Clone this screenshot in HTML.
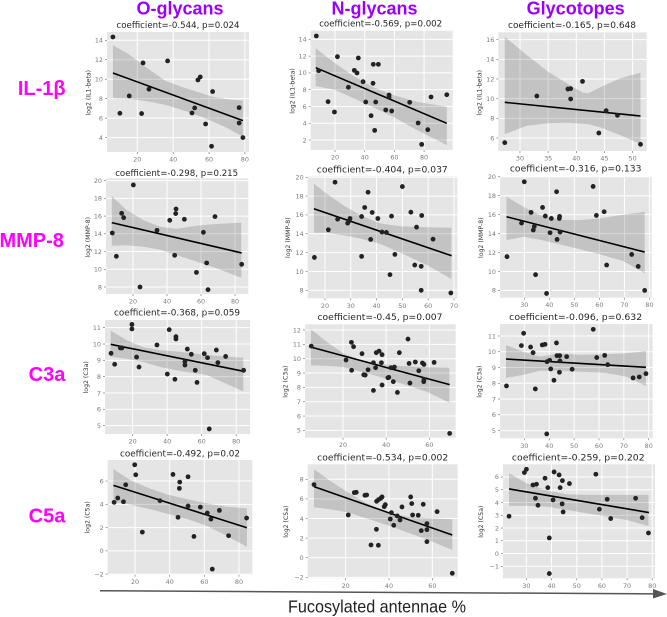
<!DOCTYPE html>
<html>
<head>
<meta charset="utf-8">
<title>Fucosylated antennae correlations</title>
<style>
html,body{margin:0;padding:0;background:#fff;}
#chart{display:block;position:absolute;left:0;top:0;width:667px;height:617px;filter:blur(0.35px);}
.head{font-family:"Liberation Sans",sans-serif;font-weight:bold;font-size:18px;fill:#9900ff;text-anchor:middle;}
.row{font-family:"Liberation Sans","DejaVu Sans",sans-serif;font-weight:bold;font-size:20px;fill:#ff00ff;text-anchor:middle;}
.ttl{font-family:"DejaVu Sans",sans-serif;font-size:8.8px;fill:#262626;text-anchor:middle;}
.tick{font-family:"DejaVu Sans",sans-serif;font-size:6.4px;fill:#7a7a7a;}
.ylab{font-family:"DejaVu Sans",sans-serif;font-size:6.2px;fill:#333;text-anchor:middle;}
.xlab{font-family:"Liberation Sans",sans-serif;font-size:17.5px;fill:#222;}
</style>
</head>
<body>
<svg id="chart" xmlns="http://www.w3.org/2000/svg" width="667" height="617" viewBox="0 0 667 617">
  <rect x="0" y="0" width="667" height="617" fill="#fff"/>
  <text class="head" x="180" y="14.5">O-glycans</text>
  <text class="head" x="374.5" y="14.5">N-glycans</text>
  <text class="head" x="575.7" y="14.5">Glycotopes</text>
  <text class="row" x="41.7" y="95">IL-1β</text>
  <text class="row" x="31.7" y="247">MMP-8</text>
  <text class="row" x="47" y="381">C3a</text>
  <text class="row" x="47" y="522.3">C5a</text>
  <g id="panels"></g>
  <line x1="100" y1="590.7" x2="654" y2="593.9" stroke="#555" stroke-width="1.5"/>
  <polygon points="653,589 667,594 653,598.5" fill="#555"/>
  <text class="xlab" x="288" y="612.3" textLength="178" lengthAdjust="spacingAndGlyphs">Fucosylated antennae %</text>
</svg>
<script>
// ---- O-glycans / IL-1beta
const oIl1X = [6.4,10.3,15.5,22.4,23.2,26.5,36.9,50.5,52,53.8,55.1,58.1,62,61.4,76.8,76.8,78.9];
const oIl1Y = [14.34,6.5,8.28,6.47,11.67,8.97,11.88,6.53,7.05,9.92,10.23,5.4,8.73,3.11,7.08,5.5,4.0];
const oIl1LineX = [6.4,78.9];
const oIl1LineY = [10.64,5.75];
const oIl1BandX = [6.4,15,25,36,45,55,62,70,78.9];
const oIl1Upper = [13.5,12.6,11.2,9.8,9.2,8.6,8.2,7.95,7.8];
const oIl1Lower = [8.05,8.0,7.75,7.35,6.85,6.2,5.65,5.0,4.1];
// ---- N-glycans / IL-1beta
const nIl1X = [7.4,9.0,15.3,19.6,21.6,29.0,33.0,34.8,35.7,38.9,40.7,44.3,45.6,45.8,46.7,47.4,49.2,54.2,56.4,56.4,58.2,70.3,76,82.5,78.4,84.7,95.3];
const nIl1Y = [14.4,10.27,6.57,5.34,11.93,8.28,10.3,9.99,11.78,8.95,6.53,4.9,8.76,11.02,3.15,6.53,11.02,5.58,7.09,7.37,5.46,6.49,4.03,3.23,1.48,7.13,7.4];
const nIl1LineX = [7,95.3];
const nIl1LineY = [10.62,3.99];
const nIl1BandX = [7,20,32.4,45.8,59.3,75,95.3];
const nIl1Upper = [12.93,11.14,9.63,8.28,7.37,6.57,5.97];
const nIl1Lower = [8.44,7.96,7.0,5.9,4.75,3.2,1.4];
// ---- Glycotopes / IL-1beta
const gIl1X = [27.3,33,38.5,39,39,41.1,44,45.3,47.3,51.4];
const gIl1Y = [5.53,10.27,10.98,11.02,9.97,11.76,6.51,8.78,8.31,5.36];
const gIl1LineX = [27.3,51.4];
const gIl1LineY = [9.63,8.24];
const gIl1BandX = [27.3,31.2,35,38.3,41.2,42.1,44.2,47.8,51.4];
const gIl1Upper = [16.3,14.44,12.75,11.56,10.6,10.54,11.15,12.07,12.64];
const gIl1Lower = [6.4,7.25,7.5,7.56,7.45,7.4,7.1,6.3,5.4];
// ---- O-glycans / MMP-8
const oMmpX = [7.8,10.2,13.3,14.5,20.2,24.1,34.1,41.6,44.5,45.1,45.3,50.2,57.3,61.4,63.3,64.1,68.2,83.9];
const oMmpY = [14.09,11.46,16.31,15.82,19.51,8,14.39,15.52,11.57,16.28,16.8,15.64,9.65,14.17,10.71,7.7,15.94,10.56];
const oMmpLineX = [7.5,83.9];
const oMmpLineY = [15.26,11.84];
const oMmpBandX = [7.5,16.3,26,35.9,45.7,57.5,69.2,83.7];
const oMmpUpper = [18.23,16.69,15.56,14.8,14.55,14.92,15.1,15.26];
const oMmpLower = [12.66,12.7,12.55,12.2,11.6,10.86,10.1,9.05];
// ---- N-glycans / MMP-8
const nMmpX = [15.9,21.3,23.9,24.9,28.8,29.4,29.7,34.2,34.2,35.4,36.7,37.7,38.3,40.5,42.1,43.8,45.2,45.8,47.1,50,53.3,54.8,55.5,57.3,57.5,57.3,61.9,68.8];
const nMmpY = [11.49,14.42,19.47,15.55,15.13,15.38,15.62,11.6,15.83,16.79,18.41,13.4,16.26,15.62,14.18,14.14,9.66,15.87,11.81,19.01,16.29,10.68,14.7,10.54,15.94,8,13.43,7.72];
const nMmpLineX = [15.7,69.1];
const nMmpLineY = [16.65,11.67];
const nMmpBandX = [15.7,20.6,27.1,33.6,41.3,49.1,59.4,69];
const nMmpUpper = [19.33,18.27,17.03,15.98,15.1,14.8,14.7,14.63];
const nMmpLower = [14.1,14.1,13.85,13.5,12.95,12.0,10.7,9.2];
// ---- Glycotopes / MMP-8
const gMmpX = [23.1,28.9,30,32.7,33.6,34,34.5,37.3,38.4,38.9,40.3,40.8,42.9,43.1,44,44.1,44.3,57.5,58.8,61.9,62.9,72.9,75.5,78.1];
const gMmpY = [11.56,15.11,19.47,16.24,14.37,14.76,9.66,16.76,15.85,7.68,14.09,15.6,18.42,13.38,15.6,15.81,14.16,18.98,15.92,16.31,10.68,11.8,10.53,8];
const gMmpLineX = [22.9,78.1];
const gMmpLineY = [15.78,12.05];
const gMmpBandX = [22.9,29.6,36.3,44.3,52.3,60.3,69.6,78.1];
const gMmpUpper = [17.89,16.83,15.95,15.43,15.43,15.6,16,16.3];
const gMmpLower = [13.3,13.67,13.35,12.85,12.35,11.8,11.1,9.8];
// ---- O-glycans / C3a
const oC3X = [7.5,9.6,12.9,13.8,19.6,19.6,22.3,23.7,34.1,40.1,41.2,44.5,45.1,45.1,50.3,50.3,51.7,54,56.3,57.3,61.5,63.4,64.4,68.5,69.4,73.9,84.3];
const oC3Y = [9.43,8.76,9.76,9.76,11.2,10.92,9.2,8.59,9.94,8.16,10.88,7.84,10.45,10.31,8.92,8.71,9.69,9.37,8.39,7.65,9.41,9.16,4.8,9.63,8.86,9.24,8.39];
const oC3LineX = [7.3,84.3];
const oC3LineY = [9.98,8.33];
const oC3BandX = [7.3,16.5,26.2,35.8,47.4,62.9,84.1];
const oC3Upper = [10.82,10.24,9.8,9.63,9.53,9.33,9.16];
const oC3Lower = [9.22,9.1,8.9,8.6,8.35,8.1,7.1];
// ---- N-glycans / C3a
const nC3X = [5.3,21.4,23.9,24,24.9,28.8,29.6,30.3,31.6,34.1,34.1,35.1,35.4,36.7,37.8,38.1,38.1,40.8,41.2,42.2,43.3,43.8,45.2,46.1,50.1,50.6,51,53.5,55.1,56.8,57.4,57.5,57.5,62.2,69.4];
const nC3Y = [10.88,9.91,11.14,9.19,10.84,10.35,8.88,8.86,9.23,9.72,7.79,9.37,10.42,10.53,9.72,10.28,8.16,8.67,8.7,9.37,8.4,9.42,7.65,10.42,11.37,9.67,8.3,9.77,9.16,9.7,8.4,9.6,8.56,9.74,4.79];
const nC3LineX = [5.2,69.4];
const nC3LineY = [10.81,8.19];
const nC3BandX = [5.2,12.4,20.2,27.9,35.6,46.4,58.8,69.3];
const nC3Upper = [12.05,11.19,10.37,9.9,9.67,9.49,9.4,9.37];
const nC3Lower = [9.53,9.5,9.42,9.1,8.8,8.3,7.7,6.93];
// ---- Glycotopes / C3a
const gC3X = [22.8,28.8,29.7,32.5,33.5,34.4,37.2,38.3,39,39.1,40.2,40.6,41.9,42.9,43.1,44.2,44.1,44.3,47,49.2,57.7,59.1,62.3,63.5,73.7,76.2,78.9];
const gC3Y = [7.83,10.39,11.17,10.3,9.94,7.64,10.43,10.47,4.79,9.37,9.46,8.91,8.19,10.56,9.75,9.75,8.7,9.42,9.69,8.89,11.42,9.63,9.77,9.18,8.34,8.4,8.61];
const gC3LineX = [22.6,78.9];
const gC3LineY = [9.54,9.01];
const gC3BandX = [22.6,29.6,36.3,44.3,52.4,61.8,71.2,78.9];
const gC3Upper = [10.43,10.0,9.69,9.9,9.8,9.84,9.9,10.05];
const gC3Lower = [8.34,8.53,8.8,8.8,8.74,8.68,8.42,7.83];
// ---- O-glycans / C5a
const oC5X = [7.9,10,13.3,14.6,19.8,20.4,24.2,34.4,41.9,44.8,45.6,45.8,50.6,50.6,54,57.7,61.7,63.8,64.6,68.7,74,84.4];
const oC5Y = [4.17,4.54,4.22,5.68,7.4,6.54,1.61,4.31,6.57,2.88,5.37,5.91,6.37,3.85,1.24,3.76,3.25,2.73,-1.57,3.48,1.3,2.82];
const oC5LineX = [7.5,84.6];
const oC5LineY = [5.63,1.99];
const oC5BandX = [7.5,17.1,26.7,38.3,49.8,61.3,72.9,84.6];
const oC5Upper = [7.03,6.09,5.46,4.85,4.45,4.08,3.79,3.65];
const oC5Lower = [4.22,3.98,3.65,3.2,2.75,2.15,1.3,0.35];
// ---- N-glycans / C5a
const nC5X = [5.4,21.2,24,24.9,28.9,29.7,31.7,34.2,34.3,35.1,35.2,36.2,36.8,37.8,38.3,40.6,41.1,42.2,43.8,45.1,46,50,50.5,50.9,53.5,54.9,55.8,57.5,57.5,57.5,62.2,69.2];
const nC5Y = [7.46,4.36,6.64,6.67,6.37,6.4,1.3,2.9,5.76,1.27,5.93,6.06,6.2,5.21,5.41,3.95,4.6,3.31,4.26,3.85,5.18,6.2,5.52,4.36,4.33,2.76,5.45,2.86,3.48,1.64,4.7,-1.59];
const nC5LineX = [5.4,69.2];
const nC5LineY = [7.25,2.32];
const nC5BandX = [5.4,12.8,20.5,29.7,38.9,48.2,58.9,69.2];
const nC5Upper = [9.02,7.86,6.74,5.55,4.7,4.19,4.02,3.92];
const nC5Lower = [5.14,4.95,4.65,4.0,3.35,2.6,1.75,0.79];
// ---- Glycotopes / C5a
const gC5X = [23.1,29.2,30,32.6,34,33.6,34.6,37.4,38.5,39.1,39.1,40.6,41,43,43.4,44.3,44.2,44.6,47.1,57.6,59,62.1,63.5,73.4,76,78.5];
const gC5Y = [2.92,6.34,6.6,5.37,5.43,4.33,3.78,5.9,5.16,1.22,-1.57,4.2,6.39,6.16,5.16,5.71,3.89,3.26,5.48,6.21,3.47,4.25,2.74,4.33,2.81,1.61];
const gC5LineX = [23.1,78.7];
const gC5LineY = [5.06,3.21];
const gC5BandX = [23.1,30.1,38.1,46,54,61.9,69.8,78.5];
const gC5Upper = [6.29,5.5,4.93,4.64,4.59,4.59,4.59,4.59];
const gC5Lower = [3.73,3.73,3.68,3.42,3.15,2.89,2.63,2.16];
// ---- Tick labels
const xTicks2080 = [20,40,60,80];
const xTicks2060 = [20,40,60];
const xTicks3050 = [30,35,40,45,50];
const xTicks2070 = [20,30,40,50,60,70];
const xTicks3080 = [30,40,50,60,70,80];
const yTicksA = [4,6,8,10,12,14];
const yTicksB = [2,4,6,8,10,12,14];
const yTicksC = [6,8,10,12,14,16];
const yTicksMmp = [8,10,12,14,16,18,20];
const yTicksC3 = [5,6,7,8,9,10,11];
const yTicksC3n = [5,6,7,8,9,10,11,12];
const yTicksC5o = [-2,0,2,4,6];
const yTicksC5n = [-2,0,2,4,6,8];
const yTicksC5g = [-1,0,1,2,3,4,5,6];

const panels = [
 {id:'o-il1',L:107,R:249,T:32,B:152,xd:[3.1,82.3],yd:[14.85,2.52],x:oIl1X,y:oIl1Y,lx:oIl1LineX,ly:oIl1LineY,bx:oIl1BandX,up:oIl1Upper,lo:oIl1Lower,xt:xTicks2080,yt:yTicksA,title:'coefficient=-0.544, p=0.024',tx:178,ty:28,tw:123,yl:'log2 (IL1-beta)',ylx:88.7,yly:92.7},
 {id:'n-il1',L:310.7,R:452.7,T:30.7,B:150,xd:[3.6,99.3],yd:[15.03,0.81],x:nIl1X,y:nIl1Y,lx:nIl1LineX,ly:nIl1LineY,bx:nIl1BandX,up:nIl1Upper,lo:nIl1Lower,xt:xTicks2080,yt:yTicksB,title:'coefficient=-0.569, p=0.002',tx:380.7,ty:26.7,tw:123,yl:'log2 (IL1-beta)',ylx:292.3,yly:91},
 {id:'g-il1',L:498.3,R:646.7,T:32.3,B:151,xd:[26.15,52.5],yd:[16.75,4.68],x:gIl1X,y:gIl1Y,lx:gIl1LineX,ly:gIl1LineY,bx:gIl1BandX,up:gIl1Upper,lo:gIl1Lower,xt:xTicks3050,yt:yTicksC,title:'coefficient=-0.165, p=0.648',tx:572,ty:28,tw:128,yl:'log2 (IL1-beta)',ylx:479.3,yly:92.7},
 {id:'o-mmp',L:106,R:248.3,T:178.3,B:294,xd:[4.1,87.8],yd:[20.26,7.21],x:oMmpX,y:oMmpY,lx:oMmpLineX,ly:oMmpLineY,bx:oMmpBandX,up:oMmpUpper,lo:oMmpLower,xt:xTicks2080,yt:yTicksMmp,title:'coefficient=-0.298, p=0.215',tx:176.7,ty:176,tw:123,yl:'log2 (MMP-8)',ylx:88,yly:237.3},
 {id:'n-mmp',L:307.7,R:457.3,T:176.3,B:298.3,xd:[13.3,71.3],yd:[20.1,7.15],x:nMmpX,y:nMmpY,lx:nMmpLineX,ly:nMmpLineY,bx:nMmpBandX,up:nMmpUpper,lo:nMmpLower,xt:xTicks2070,yt:yTicksMmp,title:'coefficient=-0.404, p=0.037',tx:382.3,ty:172.3,tw:131,yl:'log2 (MMP-8)',ylx:288,yly:237.7},
 {id:'g-mmp',L:500,R:651.7,T:176.3,B:297.7,xd:[20.3,80.9],yd:[20.05,7.23],x:gMmpX,y:gMmpY,lx:gMmpLineX,ly:gMmpLineY,bx:gMmpBandX,up:gMmpUpper,lo:gMmpLower,xt:xTicks3080,yt:yTicksMmp,title:'coefficient=-0.316, p=0.133',tx:575.7,ty:171.7,tw:131.7,yl:'log2 (MMP-8)',ylx:481,yly:237.7},
 {id:'o-c3a',L:105,R:250,T:320,B:434,xd:[4,88],yd:[11.47,4.49],x:oC3X,y:oC3Y,lx:oC3LineX,ly:oC3LineY,bx:oC3BandX,up:oC3Upper,lo:oC3Lower,xt:xTicks2080,yt:yTicksC3,title:'coefficient=-0.368, p=0.059',tx:177,ty:315.7,tw:126,yl:'log2 (C3a)',ylx:86,yly:377.3},
 {id:'n-c3a',L:305,R:455.7,T:324.3,B:437.7,xd:[2.4,72.2],yd:[12.4,4.49],x:nC3X,y:nC3Y,lx:nC3LineX,ly:nC3LineY,bx:nC3BandX,up:nC3Upper,lo:nC3Lower,xt:xTicks2060,yt:yTicksC3n,title:'coefficient=-0.45, p=0.007',tx:380,ty:320,tw:125,yl:'log2 (C3a)',ylx:285.3,yly:381.7},
 {id:'g-c3a',L:500,R:652.7,T:324,B:438.3,xd:[20.2,81.6],yd:[11.76,4.51],x:gC3X,y:gC3Y,lx:gC3LineX,ly:gC3LineY,bx:gC3BandX,up:gC3Upper,lo:gC3Lower,xt:xTicks3080,yt:yTicksC3,title:'coefficient=-0.096, p=0.632',tx:575.7,ty:320,tw:133,yl:'log2 (C3a)',ylx:479.3,yly:381.7},
 {id:'o-c5a',L:107.7,R:252.3,T:460,B:574.7,xd:[4.2,87.7],yd:[7.81,-2.05],x:oC5X,y:oC5Y,lx:oC5LineX,ly:oC5LineY,bx:oC5BandX,up:oC5Upper,lo:oC5Lower,xt:xTicks2080,yt:yTicksC5o,title:'coefficient=-0.492, p=0.02',tx:180,ty:456.3,tw:120,yl:'log2 (C5a)',ylx:87.7,yly:517.3},
 {id:'n-c5a',L:307.7,R:457.7,T:464.3,B:578.3,xd:[2.5,71.7],yd:[9.53,-2.1],x:nC5X,y:nC5Y,lx:nC5LineX,ly:nC5LineY,bx:nC5BandX,up:nC5Upper,lo:nC5Lower,xt:xTicks2060,yt:yTicksC5n,title:'coefficient=-0.534, p=0.002',tx:382.7,ty:460.7,tw:131,yl:'log2 (C5a)',ylx:286,yly:521.7},
 {id:'g-c5a',L:503,R:655,T:464.3,B:578.3,xd:[20.7,81.1],yd:[6.99,-1.94],x:gC5X,y:gC5Y,lx:gC5LineX,ly:gC5LineY,bx:gC5BandX,up:gC5Upper,lo:gC5Lower,xt:xTicks3080,yt:yTicksC5g,title:'coefficient=-0.259, p=0.202',tx:578.3,ty:460.7,tw:132.7,yl:'log2 (C5a)',ylx:481,yly:521.7}
];

const NS = 'http://www.w3.org/2000/svg';
function mk(tag, attrs, parent, text) {
  const n = document.createElementNS(NS, tag);
  for (const k in attrs) n.setAttribute(k, attrs[k]);
  if (text !== undefined) n.textContent = text;
  parent.appendChild(n);
  return n;
}
const root = document.getElementById('panels');

panels.forEach(function (p) {
  const sx = function (v) { return p.L + (v - p.xd[0]) / (p.xd[1] - p.xd[0]) * (p.R - p.L); };
  const sy = function (v) { return p.T + (v - p.yd[0]) / (p.yd[1] - p.yd[0]) * (p.B - p.T); };

  const g = mk('g', {}, root);
  
  

  const bg = mk('rect', {x: p.L, y: p.T, width: p.R - p.L, height: p.B - p.T, fill: '#e5e5e5'}, g);
  
  

  const title = mk('text', {class: 'ttl', x: p.tx, y: p.ty, textLength: p.tw, lengthAdjust: 'spacingAndGlyphs'}, g, p.title);
  
  

  const ylab = mk('text', {class: 'ylab', x: 0, y: 0, transform: 'translate(' + (p.ylx + 2) + ',' + p.yly + ') rotate(-90)'}, g, p.yl);
  
  

  p.xt.forEach(function (t) {
    const X = sx(t);
    const grid = mk('line', {x1: X, x2: X, y1: p.T, y2: p.B, stroke: '#fff', 'stroke-width': 1}, g);
    
    
    const mark = mk('line', {x1: X, x2: X, y1: p.B, y2: p.B + 2, stroke: '#666', 'stroke-width': 0.6}, g);
    
    
    const lab = mk('text', {class: 'tick', x: X, y: p.B + 9.5, 'text-anchor': 'middle'}, g, String(t).replace('-', '\u2212'));
    
    
  });

  p.yt.forEach(function (t) {
    const Y = sy(t);
    const grid = mk('line', {x1: p.L, x2: p.R, y1: Y, y2: Y, stroke: '#fff', 'stroke-width': 1}, g);
    
    
    const mark = mk('line', {x1: p.L - 2, x2: p.L, y1: Y, y2: Y, stroke: '#666', 'stroke-width': 0.6}, g);
    
    
    const lab = mk('text', {class: 'tick', x: p.L - 4, y: Y + 2.3, 'text-anchor': 'end'}, g, String(t).replace('-', '\u2212'));
    
    
  });

  const upperPts = p.bx.map(function (v, i) { return sx(v).toFixed(1) + ',' + sy(p.up[i]).toFixed(1); });
  const lowerPts = p.bx.map(function (v, i) { return sx(v).toFixed(1) + ',' + sy(p.lo[i]).toFixed(1); }).reverse();
  const band = mk('polygon', {points: upperPts.concat(lowerPts).join(' '), fill: '#000', 'fill-opacity': 0.15}, g);
  
  

  const fit = mk('line', {x1: sx(p.lx[0]), y1: sy(p.ly[0]), x2: sx(p.lx[1]), y2: sy(p.ly[1]), stroke: '#000', 'stroke-width': 1.6}, g);
  
  

  p.x.forEach(function (v, i) {
    const dot = mk('circle', {cx: sx(v), cy: sy(p.y[i]), r: 2.4, fill: '#222'}, g);
    
    
  });
});
</script>
</body>
</html>
